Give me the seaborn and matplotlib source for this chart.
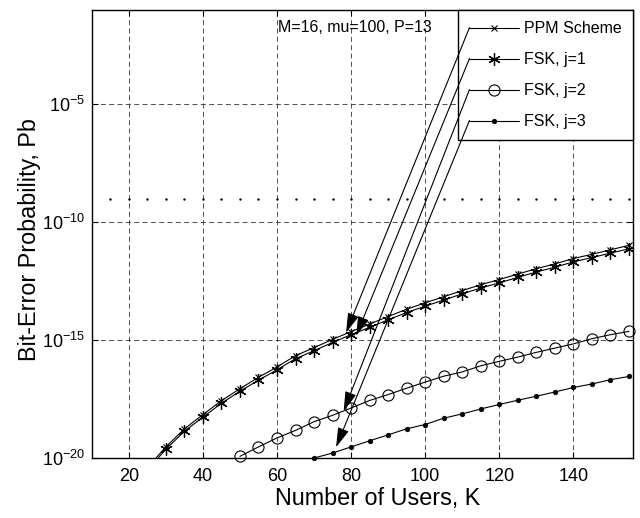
import numpy as np
import pandas as pd
import matplotlib
matplotlib.use("Agg")
import matplotlib.pyplot as plt
import seaborn as sns
from matplotlib.ticker import FixedLocator, NullLocator, LogFormatterSciNotation

# ---------------- data (log10 of Pb) ----------------
K_PPM = [25, 30, 35, 40, 45, 50, 55, 60, 65, 70, 75, 80, 85, 90, 95, 100,
         105, 110, 115, 120, 125, 130, 135, 140, 145, 150, 155]
PPM_LOG10 = [-20.42, -19.53, -18.77, -18.16, -17.57, -17.06, -16.58, -16.14,
             -15.66, -15.32, -14.97, -14.64, -14.32, -14.00, -13.69, -13.42,
             -13.16, -12.90, -12.65, -12.43, -12.20, -11.97, -11.77, -11.54,
             -11.36, -11.17, -10.98]
FSK1_LOG10 = [-20.52, -19.63, -18.87, -18.27, -17.68, -17.17, -16.70, -16.26,
              -15.79, -15.45, -15.10, -14.77, -14.46, -14.14, -13.83, -13.56,
              -13.30, -13.04, -12.79, -12.57, -12.34, -12.11, -11.91, -11.68,
              -11.50, -11.31, -11.13]
K_FSK2 = [50, 55, 60, 65, 70, 75, 80, 85, 90, 95, 100, 105, 110, 115, 120,
          125, 130, 135, 140, 145, 150, 155]
FSK2_LOG10 = [-19.93, -19.53, -19.15, -18.83, -18.46, -18.19, -17.88, -17.56,
              -17.31, -17.04, -16.78, -16.53, -16.35, -16.09, -15.90, -15.72,
              -15.52, -15.34, -15.16, -14.94, -14.77, -14.63]
K_FSK3 = [70, 75, 80, 85, 90, 95, 100, 105, 110, 115, 120, 125, 130, 135,
          140, 145, 150, 155]
FSK3_LOG10 = [-20.00, -19.79, -19.53, -19.27, -19.02, -18.76, -18.58, -18.31,
              -18.13, -17.92, -17.73, -17.55, -17.38, -17.20, -17.01, -16.86,
              -16.68, -16.54]
K_TARGET = [15, 20, 25, 30, 35, 40, 45, 50, 55, 60, 65, 70, 75, 80, 85, 90,
            95, 100, 105, 110, 115, 120, 125, 130, 135, 140, 145, 150, 155]
PB_TARGET = 1e-9

LABELS = ["PPM Scheme", "FSK, j=1", "FSK, j=2", "FSK, j=3"]
# arrow tips (K, log10 Pb) for each legend entry
ARROW_TIPS = [(78.65, -14.68), (81.35, -14.82), (78.0, -18.01), (75.95, -19.54)]
X_TICKS = [20, 40, 60, 80, 100, 120, 140]
Y_TICKS = [1e-20, 1e-15, 1e-10, 1e-5]
NOTE = "M=16, mu=100, P=13"
XLABEL = "Number of Users, K"
YLABEL = "Bit-Error Probability, Pb"

# ---------------- style ----------------
sns.set_theme(style="white")
plt.rcParams["font.family"] = ["Liberation Sans", "DejaVu Sans"]
plt.rcParams["mathtext.fontset"] = "custom"
plt.rcParams["mathtext.rm"] = "Liberation Sans"
plt.rcParams["mathtext.it"] = "Liberation Sans:italic"
plt.rcParams["mathtext.bf"] = "Liberation Sans:bold"
plt.rcParams["axes.unicode_minus"] = False
for k in ["text.color", "axes.labelcolor", "xtick.color", "ytick.color", "axes.edgecolor"]:
    plt.rcParams[k] = "black"

fig = plt.figure(figsize=(6.4, 5.18), dpi=100)
ax = fig.add_axes([91.7 / 640, 60 / 518, 541 / 640, 448 / 518])

frames = {
    LABELS[0]: pd.DataFrame({"K": K_PPM, "Pb": 10.0 ** np.array(PPM_LOG10)}),
    LABELS[1]: pd.DataFrame({"K": K_PPM, "Pb": 10.0 ** np.array(FSK1_LOG10)}),
    LABELS[2]: pd.DataFrame({"K": K_FSK2, "Pb": 10.0 ** np.array(FSK2_LOG10)}),
    LABELS[3]: pd.DataFrame({"K": K_FSK3, "Pb": 10.0 ** np.array(FSK3_LOG10)}),
}
styles = {
    LABELS[0]: dict(marker="x", markersize=5, markeredgewidth=0.8, clip_on=True),
    LABELS[1]: dict(marker=(6, 2, 0), markersize=9, markeredgewidth=0.9, clip_on=True),
    LABELS[2]: dict(marker="o", markersize=8, markeredgewidth=0.8,
                    markerfacecolor="none", clip_on=False),
    LABELS[3]: dict(marker="o", markersize=3.3, markeredgewidth=0.5,
                    markerfacecolor="black", clip_on=False),
}
for lab in LABELS:
    sns.lineplot(data=frames[lab], x="K", y="Pb", ax=ax, color="black",
                 linewidth=0.8, markeredgecolor="black", errorbar=None,
                 label=lab, **styles[lab])

sns.scatterplot(x=K_TARGET, y=[PB_TARGET] * len(K_TARGET), ax=ax, s=3,
                color="black", linewidth=0, legend=False)

ax.set_yscale("log")
ax.set_xlim(10, 156)
ax.set_ylim(1e-20, 1e-1)
ax.xaxis.set_major_locator(FixedLocator(X_TICKS))
ax.yaxis.set_major_locator(FixedLocator(Y_TICKS))
ax.yaxis.set_major_formatter(LogFormatterSciNotation())
ax.yaxis.set_minor_locator(NullLocator())
ax.xaxis.set_minor_locator(NullLocator())

ax.grid(True, which="major", color="0.2", linestyle=(0, (6, 4)), linewidth=0.6)
ax.tick_params(direction="in", length=4, width=0.8, top=True, right=True,
               bottom=True, left=True, labelsize=13)
ax.tick_params(axis="x", pad=7)
ax.tick_params(axis="y", pad=5)
for sp in ax.spines.values():
    sp.set_color("black")
    sp.set_linewidth(1.0)

ax.set_xlabel(XLABEL, fontsize=16.8)
ax.set_ylabel(YLABEL, fontsize=16.8)
ax.xaxis.set_label_coords(0.529, -0.064)
ax.yaxis.set_label_coords(-0.094, 0.487)

ax.text(0.344, 0.960, NOTE, transform=ax.transAxes, fontsize=11.5,
        ha="left", va="center")

handles, labels = ax.get_legend_handles_labels()
leg = ax.legend(handles, labels, loc="upper right", borderaxespad=0,
                fontsize=11.5, handlelength=3.1, handletextpad=0.3,
                labelspacing=1.0, borderpad=0.7, numpoints=1,
                fancybox=False, framealpha=1, edgecolor="black")
leg.get_frame().set_linewidth(1.0)
leg.set_zorder(5)

fig.canvas.draw()
for legline, (kx, ly) in zip(leg.get_lines(), ARROW_TIPS):
    xd = np.asarray(legline.get_xdata(), dtype=float)
    yd = np.asarray(legline.get_ydata(), dtype=float)
    start = legline.get_transform().transform((xd[0], yd[0]))
    ann = ax.annotate("", xy=(kx, 10.0 ** ly), xycoords="data",
                      xytext=(start[0], start[1]), textcoords="figure pixels",
                      arrowprops=dict(arrowstyle="-|>,head_length=0.75,head_width=0.22",
                                      color="black", lw=0.8, shrinkA=0, shrinkB=0,
                                      mutation_scale=16))
    ann.set_zorder(6)

fig.savefig("out.png", dpi=100)
